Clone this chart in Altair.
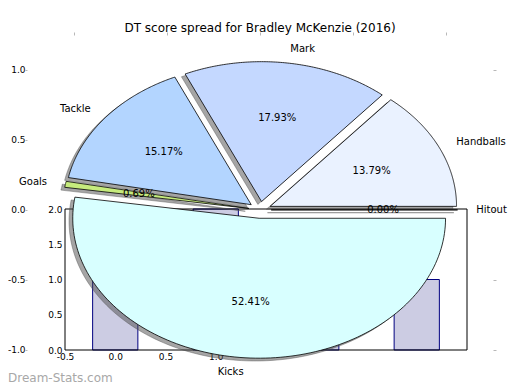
import altair as alt
import pandas as pd

# ---------------- data ----------------
slice_labels = ["Handballs", "Mark", "Tackle", "Goals", "Kicks", "Hitout"]
slice_scores = [20, 26, 22, 1, 76, 0]
slice_colors = ["#eaf2ff", "#c4d8ff", "#b3d5ff", "#c6eb7d", "#d8ffff", "#f0f0f0"]
slice_explode = [0.06, 0.06, 0.06, 0.06, 0.06, 0.06]

bar_positions = [0, 1, 2, 3]
bar_values = [1, 2, 1, 1]
bar_width = 0.45

outer_x_domain = [-1.25, 1.25]
outer_y_domain = [-1.23, 1.25]
outer_ticks = [-1.0, -0.5, 0.0, 0.5, 1.0]
inner_x_domain = [-0.5, 3.5]
inner_y_domain = [0, 2]
inner_x_ticks = [-0.5, 0.0, 0.5, 1.0]
inner_y_ticks = [0.0, 0.5, 1.0, 1.5, 2.0]

title_text = "DT score spread for Bradley McKenzie (2016)"
watermark_text = "Dream-Stats.com"
FONT = "DejaVu Sans"

pie_df = pd.DataFrame({
    "label": slice_labels,
    "score": slice_scores,
    "explode": slice_explode,
    "idx": list(range(len(slice_labels))),
})
bar_df = pd.DataFrame({"pos": bar_positions, "value": bar_values})
frame_df = pd.DataFrame({
    "x0": [inner_x_domain[0]], "x1": [inner_x_domain[1]],
    "y0": [inner_y_domain[0]], "y1": [inner_y_domain[1]],
})
mark_df = pd.DataFrame({"txt": [watermark_text]})
tick_df = pd.DataFrame({"t": outer_ticks})

W, H = 466, 347
HYPHEN_LABEL = "(datum.value < 0 ? '-' : '') + format(abs(datum.value), '.1f')"

# ---------------- inner bar axes ----------------
ixs = alt.Scale(domain=inner_x_domain, range=[38, 440], nice=False, zero=False)
iys = alt.Scale(domain=inner_y_domain, range=[315, 174], nice=False, zero=False)

inner_x_axis = alt.Axis(orient="bottom", offset=-32, values=inner_x_ticks, labelExpr=HYPHEN_LABEL,
                        ticks=False, domain=False, grid=False, title=None,
                        labelFont=FONT, labelFontSize=9, labelColor="black",
                        labelPadding=2, labelFlush=False, labelOverlap=False)
inner_y_axis = alt.Axis(orient="left", offset=-38, values=inner_y_ticks, format=".1f",
                        ticks=False, domain=False, grid=False, title=None,
                        labelFont=FONT, labelFontSize=9, labelColor="black",
                        labelPadding=3, labelFlush=False, labelOverlap=False)

bars = (
    alt.Chart(bar_df)
    .transform_calculate(b0=f"datum.pos - {bar_width / 2}", b1=f"datum.pos + {bar_width / 2}", base="0")
    .mark_rect(fill="#cccce3", stroke="#000080", strokeWidth=1)
    .encode(
        x=alt.X("b0:Q", scale=ixs, axis=inner_x_axis),
        x2="b1:Q",
        y=alt.Y("value:Q", scale=iys, axis=inner_y_axis),
        y2="base:Q",
    )
)
frame = (
    alt.Chart(frame_df)
    .mark_rect(filled=False, color="black", strokeWidth=1)
    .encode(
        x=alt.X("x0:Q", scale=ixs, axis=None),
        x2="x1:Q",
        y=alt.Y("y0:Q", scale=iys, axis=None),
        y2="y1:Q",
    )
)

# ---------------- pie (outer axes) ----------------
xs = alt.Scale(domain=outer_x_domain, nice=False, zero=False)
ys = alt.Scale(domain=outer_y_domain, nice=False, zero=False)

outer_x_axis = alt.Axis(orient="bottom", values=outer_ticks, labelExpr=HYPHEN_LABEL, tickColor="#b8b8b8",
                        tickSize=3, domain=False, grid=False, title=None,
                        labelFont=FONT, labelFontSize=9, labelColor="black",
                        labelPadding=2, labelFlush=False, labelOverlap=False)
outer_y_axis = alt.Axis(orient="left", values=outer_ticks, labelExpr=HYPHEN_LABEL, tickColor="#b8b8b8",
                        tickSize=2, domain=False, grid=False, title=None,
                        labelFont=FONT, labelFontSize=9, labelColor="black",
                        labelPadding=0, labelFlush=False, labelOverlap=False)

base = (
    alt.Chart(pie_df)
    .transform_joinaggregate(total="sum(score)")
    .transform_window(cum="sum(score)", sort=[alt.SortField("idx", order="ascending")], frame=[None, 0])
    .transform_calculate(a0="2*PI*(datum.cum - datum.score)/datum.total")
    .transform_calculate(a1="2*PI*datum.cum/datum.total")
    .transform_calculate(mid="(datum.a0 + datum.a1)/2")
    .transform_calculate(pct="100*datum.score/datum.total")
    .transform_calculate(cx="datum.explode*cos(datum.mid)")
    .transform_calculate(cy="datum.explode*sin(datum.mid)")
)

N = 120
poly = (
    base.transform_calculate(k=f"sequence(0, {N + 3})")
    .transform_flatten(["k"])
    .transform_calculate(t=f"datum.a0 + (datum.a1 - datum.a0)*clamp(datum.k - 1, 0, {N})/{N}")
    .transform_calculate(rim=f"(datum.k > 0 && datum.k < {N + 2}) ? 1 : 0")
    .transform_calculate(px="datum.cx + datum.rim*cos(datum.t)")
    .transform_calculate(py="datum.cy + datum.rim*sin(datum.t)")
)

shadow = (
    poly.transform_calculate(sx="datum.px - 0.02")
    .transform_calculate(sy="datum.py - 0.02")
    .mark_line(fill="#4c4c4c", fillOpacity=0.5, stroke="#4c4c4c", strokeOpacity=0.5, strokeWidth=0.8)
    .encode(
        x=alt.X("sx:Q", scale=xs, axis=None),
        y=alt.Y("sy:Q", scale=ys, axis=None),
        detail="label:N",
        order="k:Q",
    )
)

wedges = (
    poly.mark_line(stroke="black", strokeWidth=0.8)
    .encode(
        x=alt.X("px:Q", scale=xs, axis=outer_x_axis),
        y=alt.Y("py:Q", scale=ys, axis=outer_y_axis),
        fill=alt.Fill("label:N", scale=alt.Scale(domain=slice_labels, range=slice_colors), legend=None),
        detail="label:N",
        order="k:Q",
    )
)

lab = (
    base.transform_calculate(lx="(1.1 + datum.explode)*cos(datum.mid)")
    .transform_calculate(ly="(1.1 + datum.explode)*sin(datum.mid)")
)
labels_right = (
    lab.transform_filter("datum.lx > 0")
    .mark_text(align="left", baseline="middle", font=FONT, fontSize=10, color="black")
    .encode(x=alt.X("lx:Q", scale=xs, axis=None), y=alt.Y("ly:Q", scale=ys, axis=None), text="label:N")
)
labels_left = (
    lab.transform_filter("datum.lx <= 0")
    .mark_text(align="right", baseline="middle", font=FONT, fontSize=10, color="black")
    .encode(x=alt.X("lx:Q", scale=xs, axis=None), y=alt.Y("ly:Q", scale=ys, axis=None), text="label:N")
)
pcts = (
    base.transform_calculate(tx="(0.6 + datum.explode)*cos(datum.mid)")
    .transform_calculate(ty="(0.6 + datum.explode)*sin(datum.mid)")
    .transform_calculate(ptxt="format(datum.pct, '.2f') + '%'")
    .mark_text(align="center", baseline="middle", font=FONT, fontSize=10, color="black")
    .encode(x=alt.X("tx:Q", scale=xs, axis=None), y=alt.Y("ty:Q", scale=ys, axis=None), text="ptxt:N")
)

watermark = (
    alt.Chart(mark_df)
    .mark_text(align="left", baseline="alphabetic", font=FONT, fontSize=12, color="#a8a8a8")
    .encode(x=alt.value(-19), y=alt.value(347), text="txt:N")
)

# top / right tick marks of the pie axes
ticks_tr = (
    alt.Chart(tick_df)
    .mark_point(opacity=0)
    .encode(
        x=alt.X("t:Q", scale=xs, axis=alt.Axis(orient="top", values=outer_ticks, labels=False,
                                                tickColor="#b8b8b8", tickSize=3, domain=False,
                                                grid=False, title=None)),
        y=alt.Y("t:Q", scale=ys, axis=alt.Axis(orient="right", values=outer_ticks, labels=False,
                                                tickColor="#b8b8b8", tickSize=3, domain=False,
                                                grid=False, title=None)),
    )
)

chart = (
    alt.layer(bars, frame, shadow, wedges, labels_left, labels_right, pcts, watermark, ticks_tr)
    .resolve_scale(x="independent", y="independent")
    .properties(
        width=W,
        height=H,
        padding={"left": 19, "top": 27, "right": 19, "bottom": 0},
        autosize=alt.AutoSizeParams(type="none"),
        title=alt.TitleParams(text=title_text, font=FONT, fontSize=12, fontWeight="normal",
                              color="black", anchor="middle", offset=-3),
        background="white",
    )
    .configure_view(strokeWidth=0)
)

chart.save("out.html", embed_options={"renderer": "svg", "actions": False})
